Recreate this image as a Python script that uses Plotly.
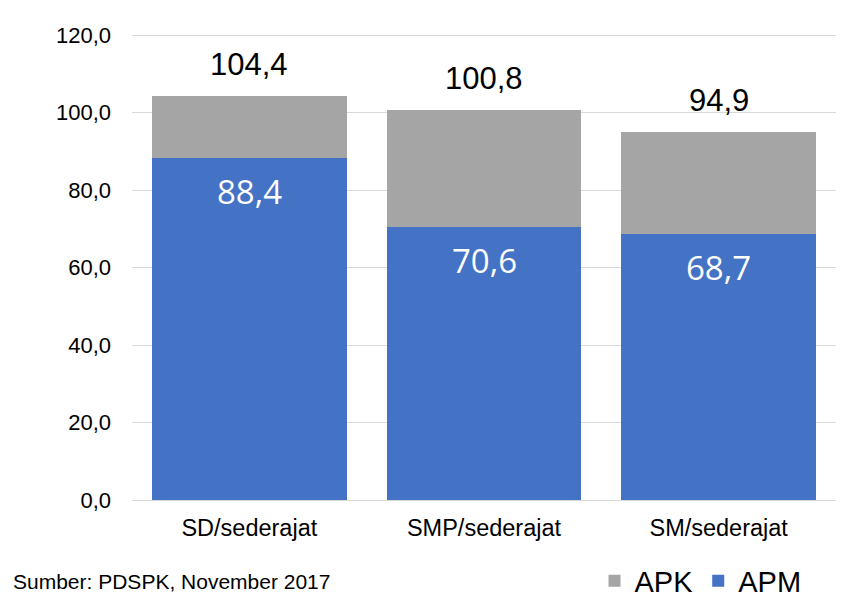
import plotly.graph_objects as go

categories = ["SD/sederajat", "SMP/sederajat", "SM/sederajat"]
apk = [104.4, 100.8, 94.9]
apm = [88.4, 70.6, 68.7]
tick_vals = [0, 20, 40, 60, 80, 100, 120]
source_text = "Sumber: PDSPK, November 2017"

BLUE = "#4472C4"
GRAY = "#A5A5A5"

apk_rest = [round(a - m, 1) for a, m in zip(apk, apm)]

fig = go.Figure()
fig.add_trace(go.Bar(name="APM", x=categories, y=apm, marker_color=BLUE,
                     marker_line_width=0, legendrank=2, hoverinfo="skip"))
fig.add_trace(go.Bar(name="APK", x=categories, y=apk_rest, marker_color=GRAY,
                     marker_line_width=0, legendrank=1, hoverinfo="skip"))

def fmt(v):
    return f"{v:.1f}".replace(".", ",")

for c, a, m in zip(categories, apk, apm):
    fig.add_annotation(x=c, y=a, text=fmt(a), showarrow=False, yanchor="bottom",
                       yshift=12, font=dict(family="Liberation Sans, Arial", size=31, color="black"))
    fig.add_annotation(x=c, y=m, text=fmt(m), showarrow=False, yanchor="top",
                       yshift=-9, font=dict(family="Open Sans", size=33, color="white"))

# page has an 8px body margin, so figure coordinates are offset by 8px
fig.add_annotation(xref="paper", yref="paper", x=-0.172, y=(492 - 573) / 466,
                   xanchor="left", yanchor="middle", text=source_text, showarrow=False,
                   font=dict(family="Liberation Sans, Arial", size=21, color="black"))

fig.update_layout(
    width=854, height=599,
    margin=dict(l=124, r=26, t=26, b=107, autoexpand=False),
    barmode="stack", bargap=0.17,
    plot_bgcolor="white", paper_bgcolor="white",
    separators=",.",
    font=dict(family="Liberation Sans, Arial", color="black"),
    legend=dict(orientation="h", traceorder="normal", x=0.657, xref="paper",
                y=(599 - 573) / 599, yref="container", xanchor="left", yanchor="middle",
                font=dict(size=29, color="black"), itemwidth=30,
                bgcolor="rgba(0,0,0,0)"),
    yaxis=dict(range=[0, 120.3], tickvals=tick_vals, tickformat=".1f",
               showgrid=True, gridcolor="#D9D9D9", gridwidth=1.3, zeroline=False,
               showline=False, ticks="", ticklabelstandoff=20, automargin=False,
               tickfont=dict(size=22, color="black")),
    xaxis=dict(showline=True, linecolor="#D9D9D9", linewidth=1.3, ticks="",
               automargin=False,
               tickfont=dict(size=23.5, color="black"), ticklabelstandoff=7),
)

fig.write_html("out.html")
